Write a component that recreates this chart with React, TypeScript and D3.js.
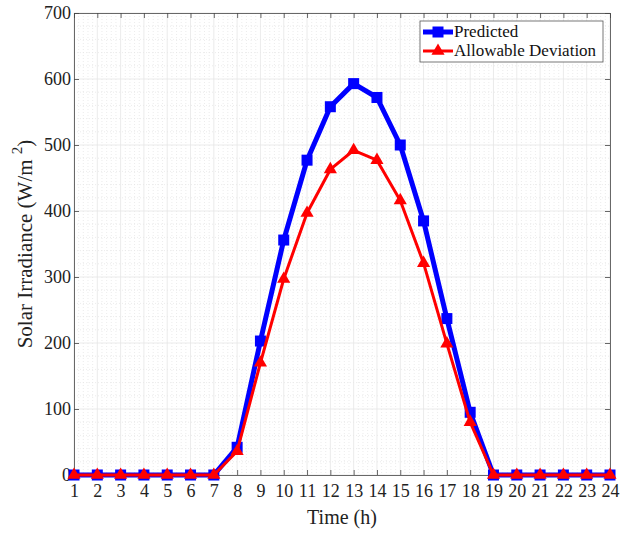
import React, { useEffect, useRef } from 'react';
import * as d3 from 'd3';

// hours of the day
const hours = d3.range(1, 25);
// predicted irradiance (W/m^2)
const predicted = [0, 0, 0, 0, 0, 0, 0, 42, 203, 356, 477, 558, 593, 572, 500, 385, 237, 95, 0, 0, 0, 0, 0, 0];
// allowable deviation (W/m^2)
const deviation = [0, 0, 0, 0, 0, 0, 0, 36, 170, 297, 397, 463, 492, 477, 416, 321, 199, 80, 0, 0, 0, 0, 0, 0];
const yTicks = [0, 100, 200, 300, 400, 500, 600, 700];

const App = () => {
  const ref = useRef<SVGSVGElement>(null);

  useEffect(() => {
    const width = 629;
    const height = 534;
    const margin = { top: 13, right: 19, bottom: 59, left: 74 };
    const innerW = width - margin.left - margin.right;
    const innerH = height - margin.top - margin.bottom;
    const font = '"Liberation Serif", "Times New Roman", serif';

    const svg = d3.select(ref.current);
    svg.selectAll('*').remove();

    const x = d3.scaleLinear().domain([1, 24]).range([0, innerW]);
    const y = d3.scaleLinear().domain([0, 700]).range([innerH, 0]);

    const g = svg.append('g').attr('transform', `translate(${margin.left},${margin.top})`);

    g.append('rect').attr('width', innerW).attr('height', innerH).attr('fill', '#fff');

    // minor grid (dotted)
    const minorX = d3.range(1, 24.001, 0.2).filter((v) => Math.abs(v - Math.round(v)) > 0.01);
    const minorY = d3.range(0, 700.001, 20).filter((v) => v % 100 !== 0);
    g.append('g')
      .selectAll('line')
      .data(minorX)
      .join('line')
      .attr('x1', (d) => x(d))
      .attr('x2', (d) => x(d))
      .attr('y1', 0)
      .attr('y2', innerH)
      .attr('stroke', '#e4e4e4')
      .attr('stroke-width', 0.7)
      .attr('stroke-dasharray', '1,2');
    g.append('g')
      .selectAll('line')
      .data(minorY)
      .join('line')
      .attr('x1', 0)
      .attr('x2', innerW)
      .attr('y1', (d) => y(d))
      .attr('y2', (d) => y(d))
      .attr('stroke', '#e4e4e4')
      .attr('stroke-width', 0.7)
      .attr('stroke-dasharray', '1,2');

    // major grid
    g.append('g')
      .selectAll('line')
      .data(hours)
      .join('line')
      .attr('x1', (d) => x(d))
      .attr('x2', (d) => x(d))
      .attr('y1', 0)
      .attr('y2', innerH)
      .attr('stroke', '#e6e6e6')
      .attr('stroke-width', 0.8);
    g.append('g')
      .selectAll('line')
      .data(yTicks)
      .join('line')
      .attr('x1', 0)
      .attr('x2', innerW)
      .attr('y1', (d) => y(d))
      .attr('y2', (d) => y(d))
      .attr('stroke', '#e6e6e6')
      .attr('stroke-width', 0.8);

    // axes
    const xAxis = g
      .append('g')
      .attr('transform', `translate(0,${innerH})`)
      .call(d3.axisBottom(x).tickValues(hours).tickFormat(d3.format('d')).tickSizeInner(-5).tickSizeOuter(0).tickPadding(9));
    const yAxis = g
      .append('g')
      .call(d3.axisLeft(y).tickValues(yTicks).tickSizeInner(-5).tickSizeOuter(0).tickPadding(3));
    g.append('g').call(d3.axisTop(x).tickValues(hours).tickFormat(() => '').tickSizeInner(-5).tickSizeOuter(0));
    g.append('g')
      .attr('transform', `translate(${innerW},0)`)
      .call(d3.axisRight(y).tickValues(yTicks).tickFormat(() => '').tickSizeInner(-5).tickSizeOuter(0));

    g.selectAll('.domain').attr('stroke', '#444').attr('stroke-width', 0.8);
    g.selectAll('.tick line').attr('stroke', '#444').attr('stroke-width', 0.8);
    [xAxis, yAxis].forEach((a) =>
      a.selectAll('text').attr('font-family', font).attr('font-size', 18).attr('fill', '#222')
    );

    // lines
    const lineP = d3
      .line<number>()
      .x((_, i) => x(hours[i]))
      .y((d) => y(d));

    g.append('path')
      .datum(predicted)
      .attr('fill', 'none')
      .attr('stroke', '#0000ff')
      .attr('stroke-width', 5)
      .attr('stroke-linejoin', 'round')
      .attr('d', lineP);
    g.append('g')
      .selectAll('rect')
      .data(predicted)
      .join('rect')
      .attr('x', (_, i) => x(hours[i]) - 5.5)
      .attr('y', (d) => y(d) - 5.5)
      .attr('width', 11)
      .attr('height', 11)
      .attr('fill', '#0000ff');

    g.append('path')
      .datum(deviation)
      .attr('fill', 'none')
      .attr('stroke', '#ff0000')
      .attr('stroke-width', 3)
      .attr('stroke-linejoin', 'round')
      .attr('d', lineP);
    const tri = d3.symbol().type(d3.symbolTriangle).size(75);
    g.append('g')
      .selectAll('path')
      .data(deviation)
      .join('path')
      .attr('transform', (d, i) => `translate(${x(hours[i])},${y(d)})`)
      .attr('d', tri)
      .attr('fill', '#ff0000');

    // legend
    const lg = svg.append('g').attr('transform', 'translate(420,21)');
    lg.append('rect').attr('width', 183).attr('height', 41).attr('fill', '#fff').attr('stroke', '#555').attr('stroke-width', 0.8);
    const items = [
      { label: 'Predicted', color: '#0000ff', w: 5, marker: 'square' },
      { label: 'Allowable Deviation', color: '#ff0000', w: 3, marker: 'triangle' },
    ];
    items.forEach((it, i) => {
      const yy = 11 + i * 19;
      lg.append('line').attr('x1', 3).attr('x2', 33).attr('y1', yy).attr('y2', yy).attr('stroke', it.color).attr('stroke-width', it.w);
      if (it.marker === 'square') {
        lg.append('rect').attr('x', 12.5).attr('y', yy - 5.5).attr('width', 11).attr('height', 11).attr('fill', it.color);
      } else {
        lg.append('path').attr('transform', `translate(18,${yy})`).attr('d', tri).attr('fill', it.color);
      }
      lg.append('text')
        .attr('x', 34)
        .attr('y', yy + 5)
        .attr('font-family', font)
        .attr('font-size', 17)
        .attr('fill', '#111')
        .text(it.label);
    });

    // axis titles
    svg.append('text')
      .attr('x', margin.left + innerW / 2)
      .attr('y', 524)
      .attr('text-anchor', 'middle')
      .attr('font-family', font)
      .attr('font-size', 20)
      .attr('fill', '#222')
      .text('Time (h)');

    const yt = svg.append('text')
      .attr('transform', `translate(32,${margin.top + innerH / 2}) rotate(-90)`)
      .attr('text-anchor', 'middle')
      .attr('font-family', font)
      .attr('font-size', 21)
      .attr('fill', '#222');
    yt.append('tspan').text('Solar Irradiance (W/m ');
    yt.append('tspan').attr('dy', -10).attr('font-size', 15).text('2');
    yt.append('tspan').attr('dy', 10).text(')');
  }, []);

  return (
    <svg ref={ref} width={629} height={534} style={{ position: 'absolute', left: 0, top: 0, background: '#fff' }} />
  );
};

export default App;
